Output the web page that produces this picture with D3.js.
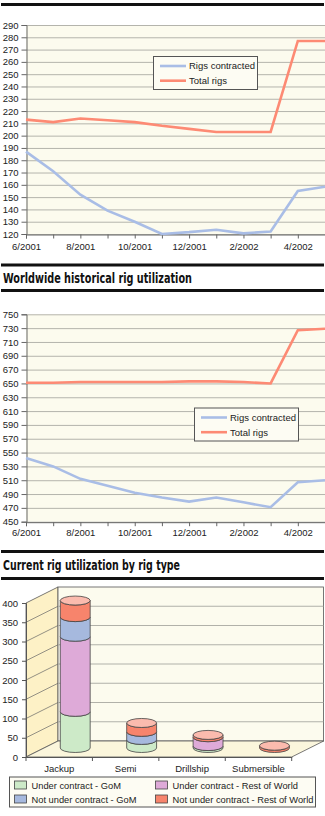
<!DOCTYPE html>
<html>
<head>
<meta charset="utf-8">
<script src="https://cdn.jsdelivr.net/npm/d3@7"></script>
<style>
  body { margin: 0; background: #fff; }
  text { font-family: "Liberation Sans", Arial, sans-serif; fill: #222; }
  .title { font-family: "Liberation Sans Narrow", "DejaVu Sans Condensed", sans-serif; font-weight: bold; font-size: 14px; fill: #111; }
</style>
</head>
<body>
<script>
// months on the x axis of both line charts
const months = ["6/2001", "7/2001", "8/2001", "9/2001", "10/2001", "11/2001",
                "12/2001", "1/2002", "2/2002", "3/2002", "4/2002", "5/2002"];
// top chart (Gulf of Mexico)
const gomContracted = [187, 171, 152, 139, 130, 120, 121.5, 123.5, 120.5, 122, 155, 158.5];
const gomTotal      = [213, 211, 214, 212.5, 211, 208, 205.5, 203, 203, 203, 277, 277];
// worldwide chart
const wwContracted = [542, 530, 512, 502, 492, 485, 479, 485, 478, 471, 507, 510];
const wwTotal      = [651, 651, 652, 652, 652, 652, 653, 653, 652, 650, 727, 729];
// rig types chart
const rigTypes = ["Jackup", "Semi", "Drillship", "Submersible"];
const ucGom  = [94, 21, 5, 0];
const ucRow  = [195, 0, 23, 0];
const nucGom = [51, 21, 0, 0];
const nucRow = [43, 23, 6, 6];
const seriesNames = ["Under contract - GoM", "Under contract - Rest of World",
                     "Not under contract - GoM", "Not under contract - Rest of World"];
const seriesColors = ["#cdeac8", "#deaad8", "#a6b9de", "#f7846c"];

const blue = "#a9bde6", salmon = "#fd8a74";
const cream = "#fcfbee";

const svg = d3.select("body").append("svg")
  .attr("width", 325).attr("height", 816);

// thick black rules and section titles
[3, 263.5, 289, 550, 577].forEach(y => {
  svg.append("rect").attr("x", 1).attr("y", y).attr("width", 323).attr("height", 3).attr("fill", "#111");
});
svg.append("text").attr("class", "title").attr("x", 3).attr("y", 283)
  .attr("textLength", 189).attr("lengthAdjust", "spacingAndGlyphs")
  .text("Worldwide historical rig utilization");
svg.append("text").attr("class", "title").attr("x", 3).attr("y", 570)
  .attr("textLength", 177).attr("lengthAdjust", "spacingAndGlyphs")
  .text("Current rig utilization by rig type");

// ---------- line charts ----------
function lineChart(cfg) {
  const x = d3.scalePoint().domain(months).range([26, 325]);
  const y = d3.scaleLinear().domain(cfg.domain).range([cfg.bottom, cfg.top]);
  const g = svg.append("g");

  g.append("rect").attr("x", 26).attr("y", cfg.top)
    .attr("width", 299).attr("height", cfg.bottom - cfg.top).attr("fill", cream);

  // gridlines
  g.selectAll(".grid").data(cfg.ticks).join("line")
    .attr("x1", 26).attr("x2", 325)
    .attr("y1", d => y(d) + 0.5).attr("y2", d => y(d) + 0.5)
    .attr("stroke", "#b4b4ac").attr("stroke-width", 1);

  const yAxis = g.append("g").attr("transform", "translate(26.5,0)")
    .call(d3.axisLeft(y).tickValues(cfg.ticks).tickSize(5).tickPadding(3));
  const xAxis = g.append("g").attr("transform", `translate(0,${cfg.bottom + 0.5})`)
    .call(d3.axisBottom(x).tickSize(4).tickPadding(cfg.xPad)
      .tickFormat((d, i) => i % 2 === 0 ? d : ""));
  [yAxis, xAxis].forEach(a => {
    a.selectAll("path, line").attr("stroke", "#666");
    a.selectAll("text").attr("font-size", "9.5px").attr("fill", "#222")
      .attr("font-family", "Liberation Sans, Arial, sans-serif");
  });

  const line = d3.line().x((d, i) => x(months[i])).y(d => y(d));
  g.append("path").datum(cfg.contracted).attr("d", line)
    .attr("fill", "none").attr("stroke", blue).attr("stroke-width", 2.6);
  g.append("path").datum(cfg.total).attr("d", line)
    .attr("fill", "none").attr("stroke", salmon).attr("stroke-width", 2.6);

  // legend
  const lg = g.append("g").attr("transform", `translate(${cfg.legend[0]},${cfg.legend[1]})`);
  lg.append("rect").attr("x", 0.5).attr("y", 0.5).attr("width", 104).attr("height", 33)
    .attr("fill", "#fdfcf3").attr("stroke", "#555");
  [["Rigs contracted", blue], ["Total rigs", salmon]].forEach(([name, c], i) => {
    const yy = 10 + i * 14.7;
    lg.append("line").attr("x1", 7).attr("x2", 33).attr("y1", yy).attr("y2", yy)
      .attr("stroke", c).attr("stroke-width", 2.6);
    lg.append("text").attr("x", 36).attr("y", yy + 3.4).attr("font-size", "9.5px").text(name);
  });
}

lineChart({
  domain: [120, 290], top: 25, bottom: 234, ticks: d3.range(120, 291, 10),
  contracted: gomContracted, total: gomTotal, legend: [153, 56], xPad: 5
});
lineChart({
  domain: [450, 750], top: 314.3, bottom: 521.7, ticks: d3.range(450, 751, 20),
  contracted: wwContracted, total: wwTotal, legend: [194, 407.5], xPad: 3
});

// ---------- 3D cylinder chart ----------
const dx = 32, dy = -16;
const xb = d3.scaleBand().domain(rigTypes).range([26, 291.7]);
const yFront = d3.scaleLinear().domain([0, 400]).range([757, 603]);
const yBack = d3.scaleLinear().domain([0, 400]).range([741, 587]);
const yMid = d3.scaleLinear().domain([0, 400]).range([748, 594]);
const g3 = svg.append("g");
const x0 = 26, x1 = 291.7;

// walls and floor
g3.append("path")
  .attr("d", `M${x0},${yFront(0)}L${x0 + dx},${yBack(0)}L${x0 + dx},${yBack(400)}L${x0},${yFront(400)}Z`)
  .attr("fill", "#fdf1c6").attr("stroke", "#555").attr("stroke-width", 0.8);
g3.append("rect").attr("x", x0 + dx).attr("y", yBack(400))
  .attr("width", 323.5 - (x0 + dx)).attr("height", yBack(0) - yBack(400))
  .attr("fill", cream).attr("stroke", "#555").attr("stroke-width", 0.8);
g3.append("path")
  .attr("d", `M${x0},${yFront(0)}L${x1},${yFront(0)}L${x1 + dx},${yBack(0)}L${x0 + dx},${yBack(0)}Z`)
  .attr("fill", "#fbf6dc").attr("stroke", "#555").attr("stroke-width", 0.8);

const vTicks = d3.range(0, 401, 50);
g3.selectAll(".bg").data(vTicks.slice(1, -1)).join("line")
  .attr("x1", x0 + dx).attr("x2", 323.5)
  .attr("y1", d => yBack(d)).attr("y2", d => yBack(d))
  .attr("stroke", "#a8a8a0").attr("stroke-width", 0.9);
g3.selectAll(".lw").data(vTicks.slice(1, -1)).join("line")
  .attr("x1", x0).attr("x2", x0 + dx)
  .attr("y1", d => yFront(d)).attr("y2", d => yBack(d))
  .attr("stroke", "#666").attr("stroke-width", 0.7);

const yAx3 = g3.append("g").attr("transform", `translate(${x0},0)`)
  .call(d3.axisLeft(yFront).tickValues(vTicks).tickSize(4).tickPadding(4));
const xAx3 = g3.append("g").attr("transform", `translate(0,${yFront(0)})`)
  .call(d3.axisBottom(xb).tickSize(0).tickPadding(8));
[yAx3, xAx3].forEach(a => {
  a.selectAll("path, line").attr("stroke", "#555");
  a.selectAll("text").attr("font-size", "9.5px").attr("fill", "#222")
    .attr("font-family", "Liberation Sans, Arial, sans-serif");
});
g3.selectAll(".bt").data([...rigTypes.map(t => xb(t)), x1]).join("line")
  .attr("x1", d => d).attr("x2", d => d)
  .attr("y1", yFront(0)).attr("y2", yFront(0) + 4)
  .attr("stroke", "#555");

// stacked cylinders
const rows = rigTypes.map((t, i) => ({ type: t, a: ucGom[i], b: ucRow[i], c: nucGom[i], d: nucRow[i] }));
const stacked = d3.stack().keys(["a", "b", "c", "d"])(rows);
const ry = 4.5;
rigTypes.forEach((t, i) => {
  const cx = xb(t) + xb.bandwidth() / 2 + dx / 2;
  const rx = xb.bandwidth() * 0.225;
  let topColor = null, topVal = 0;
  stacked.forEach((s, k) => {
    const [v0, v1] = s[i];
    if (v1 <= v0) return;
    const yb = yMid(v0), yt = yMid(v1);
    g3.append("path")
      .attr("d", `M${cx - rx},${yt}L${cx - rx},${yb}A${rx},${ry} 0 0 0 ${cx + rx},${yb}` +
                 `L${cx + rx},${yt}A${rx},${ry} 0 0 1 ${cx - rx},${yt}Z`)
      .attr("fill", seriesColors[k]).attr("stroke", "#444").attr("stroke-width", 0.8);
    topColor = seriesColors[k]; topVal = v1;
  });
  if (topColor) {
    g3.append("ellipse").attr("cx", cx).attr("cy", yMid(topVal)).attr("rx", rx).attr("ry", ry)
      .attr("fill", d3.interpolateRgb(topColor, "#fff")(0.45))
      .attr("stroke", "#444").attr("stroke-width", 0.8);
  }
});

// legend of the cylinder chart
const lg3 = svg.append("g").attr("transform", "translate(9,776.5)");
lg3.append("rect").attr("x", 0.5).attr("y", 0.5).attr("width", 306).attr("height", 30)
  .attr("fill", "#fdfcf3").attr("stroke", "#555");
seriesNames.forEach((name, k) => {
  const col = k % 2, row = Math.floor(k / 2);
  const lx = col === 0 ? 5.5 : 146.5, ly = 4.5 + row * 14;
  lg3.append("rect").attr("x", lx).attr("y", ly).attr("width", 12).attr("height", 8)
    .attr("fill", seriesColors[k]).attr("stroke", "#444").attr("stroke-width", 0.8);
  lg3.append("text").attr("x", lx + 17).attr("y", ly + 7.5).attr("font-size", "9.3px").text(name);
});
</script>
</body>
</html>
